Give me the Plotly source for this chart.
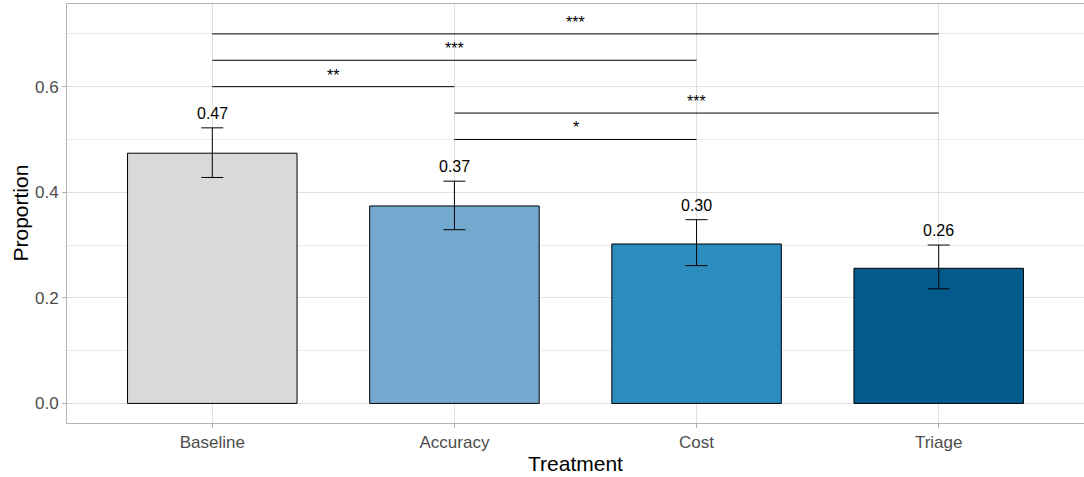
import plotly.graph_objects as go

categories = ["Baseline", "Accuracy", "Cost", "Triage"]
proportions = [0.474, 0.374, 0.302, 0.256]
err_upper = [0.522, 0.421, 0.348, 0.300]
err_lower = [0.428, 0.329, 0.261, 0.217]
value_labels = ["0.47", "0.37", "0.30", "0.26"]
bar_colors = ["#D9D9D9", "#74A9CF", "#2B8CBE", "#045A8D"]

# significance brackets: (group1, group2, y level, label)
comp_from = ["Baseline", "Baseline", "Baseline", "Accuracy", "Accuracy"]
comp_to = ["Triage", "Cost", "Accuracy", "Triage", "Cost"]
comp_y = [0.70, 0.65, 0.60, 0.55, 0.50]
comp_labels = ["***", "***", "**", "***", "*"]

FONT = "Liberation Sans, Arial, sans-serif"
xpos = list(range(1, len(categories) + 1))
idx = {c: i + 1 for i, c in enumerate(categories)}

fig = go.Figure()
fig.add_trace(go.Bar(
    x=xpos, y=proportions, width=0.7,
    marker=dict(color=bar_colors, line=dict(color="#000000", width=1)),
    error_y=dict(type="data", symmetric=False,
                 array=[u - p for u, p in zip(err_upper, proportions)],
                 arrayminus=[p - l for p, l in zip(proportions, err_lower)],
                 color="#000000", thickness=1, width=11),
    hoverinfo="skip", showlegend=False,
))

annotations = []
for x, u, lab in zip(xpos, err_upper, value_labels):
    annotations.append(dict(x=x, y=u, xref="x", yref="y", text=lab, showarrow=False,
                            yanchor="bottom", yshift=4,
                            font=dict(family=FONT, size=16, color="#000000")))

shapes = []
for a, b, yv, lab in zip(comp_from, comp_to, comp_y, comp_labels):
    x0, x1 = idx[a], idx[b]
    shapes.append(dict(type="line", xref="x", yref="y", x0=x0, x1=x1, y0=yv, y1=yv,
                       line=dict(color="#000000", width=1)))
    annotations.append(dict(x=(x0 + x1) / 2, y=yv, xref="x", yref="y", text=lab,
                            showarrow=False, yanchor="bottom", yshift=1,
                            font=dict(family=FONT, size=16, color="#000000")))

# axis titles as annotations for precise placement
annotations.append(dict(x=0.5, y=0, xref="paper", yref="paper", text="Treatment",
                        showarrow=False, yanchor="middle", yshift=-40,
                        font=dict(family=FONT, size=21, color="#000000")))
annotations.append(dict(x=0, y=0.5, xref="paper", yref="paper", text="Proportion",
                        showarrow=False, textangle=-90, xanchor="center", xshift=-47,
                        font=dict(family=FONT, size=21, color="#000000")))

fig.update_layout(
    width=1084, height=477,
    margin=dict(l=67, r=0, t=4, b=54),
    paper_bgcolor="#FFFFFF", plot_bgcolor="#FFFFFF",
    font=dict(family=FONT),
    shapes=shapes, annotations=annotations,
    xaxis=dict(
        range=[0.4, 4.6], tickvals=xpos, ticktext=categories,
        showgrid=True, gridcolor="#E0E0E0", gridwidth=1,
        ticks="outside", ticklen=4, tickcolor="#B3B3B3",
        tickfont=dict(family=FONT, size=17, color="#4D4D4D"),
        showline=True, mirror=True, linecolor="#B3B3B3", linewidth=1,
        zeroline=False,
    ),
    yaxis=dict(
        range=[-0.0371, 0.7566], tickvals=[0, 0.2, 0.4, 0.6],
        ticktext=["0.0", "0.2", "0.4", "0.6"],
        showgrid=True, gridcolor="#E0E0E0", gridwidth=1,
        minor=dict(tickvals=[0.1, 0.3, 0.5, 0.7], showgrid=True, gridcolor="#EBEBEB", gridwidth=1),
        ticks="outside", ticklen=4, tickcolor="#B3B3B3",
        tickfont=dict(family=FONT, size=17, color="#4D4D4D"),
        showline=True, mirror=True, linecolor="#B3B3B3", linewidth=1,
        zeroline=False,
    ),
)

fig.write_html("out.html", config={"displayModeBar": False},
               post_script="document.body.style.margin='0';document.body.style.padding='0';")
